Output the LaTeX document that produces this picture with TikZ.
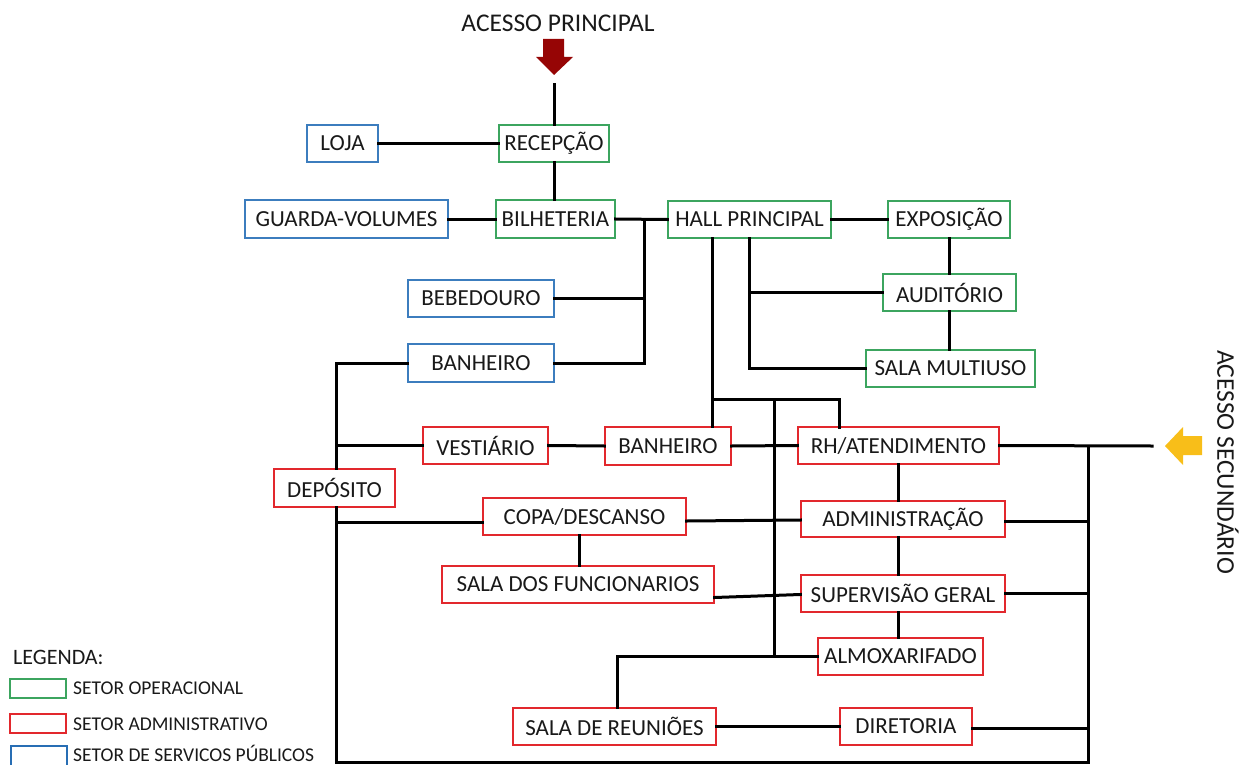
\documentclass[tikz,border=0pt]{standalone}
\usepackage{fontspec}
\setmainfont{Carlito}
\definecolor{opgreen}{RGB}{60,165,95}
\definecolor{admred}{RGB}{226,40,45}
\definecolor{pubblue}{RGB}{60,125,190}
\definecolor{legblue}{RGB}{40,110,180}
\definecolor{accred}{RGB}{150,5,5}
\definecolor{accyel}{RGB}{248,190,25}
\definecolor{txt}{RGB}{25,25,25}
\begin{document}
\begin{tikzpicture}[x=1pt,y=-1pt,
  room/.style={draw, line width=1.2pt, inner sep=0pt, fill=white, text=txt,
     font=\fontsize{23}{25}\selectfont},
  opbox/.style={room, draw=opgreen},
  admbox/.style={room, draw=admred},
  pubbox/.style={room, draw=pubblue},
  link/.style={line width=3pt, black, line cap=rect},
  lbl/.style={text=txt, inner sep=0pt}]
\useasboundingbox (0,0) rectangle (1244,765);

\coordinate (topin) at (554,85);
\coordinate (j1) at (644,219);
\coordinate (h2) at (712,238);
\coordinate (bar) at (712,399);
\coordinate (rhn) at (839,427);
\coordinate (v) at (774,399);
\coordinate (acc) at (1152,446);
\coordinate (rt) at (1088,446);
\coordinate (br) at (1088,762);
\coordinate (bl) at (336,762);
\coordinate (lt) at (336,363);

% nodes
\node[opbox, minimum width=110pt, minimum height=37pt] (recep) at (554,143.5) {RECEPÇÃO};
\node[pubbox, minimum width=71pt, minimum height=37pt] (loja) at (342.5,143.5) {LOJA};
\node[pubbox, minimum width=203pt, minimum height=38pt] (guarda) at (346.5,219) {GUARDA-VOLUMES};
\node[opbox, minimum width=119pt, minimum height=38pt] (bilh) at (555.5,219) {BILHETERIA};
\node[opbox, minimum width=163pt, minimum height=37pt] (hall) at (749.5,219.5) {HALL PRINCIPAL};
\node[opbox, minimum width=122pt, minimum height=37pt] (expo) at (949,219.5) {EXPOSIÇÃO};
\node[opbox, minimum width=133pt, minimum height=37pt] (audit) at (949.5,292.5) {AUDITÓRIO};
\node[opbox, minimum width=169pt, minimum height=37pt] (multi) at (950.5,368.5) {SALA MULTIUSO};
\node[admbox, minimum width=201pt, minimum height=37pt] (rh) at (898.5,445.5) {RH/ATENDIMENTO};
\node[admbox, minimum width=126pt, minimum height=38pt] (banr) at (668,446) {BANHEIRO};
\node[pubbox, minimum width=146pt, minimum height=37pt] (bebe) at (481,298.5) {BEBEDOURO};
\node[pubbox, minimum width=146pt, minimum height=38pt] (banb) at (481,363) {BANHEIRO};
\node[admbox, minimum width=125pt, minimum height=37pt] (vest) at (485.5,445.5) {VESTIÁRIO};
\node[admbox, minimum width=121pt, minimum height=38pt] (depo) at (334.5,488) {DEPÓSITO};
\node[admbox, minimum width=203pt, minimum height=37pt] (copa) at (584.5,516.5) {COPA/DESCANSO};
\node[admbox, minimum width=204pt, minimum height=36pt] (adm) at (903,519) {ADMINISTRAÇÃO};
\node[admbox, minimum width=272pt, minimum height=37pt] (salaf) at (578,584.5) {SALA DOS FUNCIONARIOS};
\node[admbox, minimum width=204pt, minimum height=37pt] (sup) at (903,593.5) {SUPERVISÃO GERAL};
\node[admbox, minimum width=165pt, minimum height=37pt] (almox) at (900.5,656.5) {ALMOXARIFADO};
\node[admbox, minimum width=203pt, minimum height=37pt] (reun) at (614.5,726.5) {SALA DE REUNIÕES};
\node[admbox, minimum width=132pt, minimum height=37pt] (dir) at (906,726.5) {DIRETORIA};

% links
\draw[link] (topin) -- (recep.north);
\draw[link] (loja.east) -- (recep.west);
\draw[link] (recep.south) -- (recep.south |- bilh.north);
\draw[link] (guarda.east) -- (bilh.west);
\draw[link] (bilh.east) -- (hall.west);
\draw[link] (j1) |- (banb.east);
\draw[link] (bebe.east) -- (bebe.east -| j1);
\draw[link] (hall.east) -- (expo.west);
\draw[link] (expo.south) -- (expo.south |- audit.north);
\draw[link] (audit.south) -- (audit.south |- multi.north);
\draw[link] (hall.south) |- (multi.west);
\draw[link] (hall.south |- audit.west) -- (audit.west);
\draw[link] (h2) -- (h2 |- banr.north);
\draw[link] (bar) -| (rhn);
\draw[link] (v) -- (v |- almox.west);
\draw[link] (vest.east) -- (banr.west);
\draw[link] (banr.east) -- (rh.west);
\draw[link] (rh.east) -- (acc);
\draw[link] (rt) -- (br) -- (bl);
\draw[link] ([yshift=-2pt]adm.east) -- ([yshift=-2pt]adm.east -| rt);
\draw[link] (sup.east) -- (sup.east -| rt);
\draw[link] ([yshift=-2pt]dir.east) -- ([yshift=-2pt]dir.east -| rt);
\draw[link] (rh.south) -- (rh.south |- adm.north);
\draw[link] (adm.south -| rh.south) -- (sup.north -| rh.south);
\draw[link] (sup.south -| rh.south) -- (almox.north -| rh.south);
\draw[link] ([yshift=-4.5pt]copa.east) -- ([yshift=-1pt]adm.west);
\draw[link] ([yshift=-13pt]salaf.east) -- ([yshift=-1pt]sup.west);
\draw[link] ([xshift=-5pt]copa.south) -- ([xshift=-5pt]copa.south |- salaf.north);
\draw[link] (almox.west) -| ([xshift=3pt]reun.north);
\draw[link] (reun.east) -- (dir.west);
\draw[link] (banb.west) -| (lt |- depo.north);
\draw[link] (vest.west) -- (vest.west -| lt);
\draw[link] (lt |- depo.south) -- (bl);
\draw[link] ([yshift=-6pt]copa.west) -- ([yshift=-6pt]copa.west -| lt);

% access arrows
\fill[accred] (543,39) -- (564,39) -- (564,57) -- (573,57) -- (554,75) -- (536,57) -- (543,57) -- cycle;
\fill[accyel] (1165,446) -- (1183,427) -- (1183,436) -- (1202,436) -- (1202,455) -- (1183,455) -- (1183,465) -- cycle;
\node[lbl, font=\fontsize{25.5}{27}\selectfont] (accp) at (558,23) {ACESSO PRINCIPAL};
\node[lbl, font=\fontsize{25.5}{27}\selectfont, rotate=-90] (accs) at (1228,462) {ACESSO SECUNDÁRIO};

% legend
\node[lbl, anchor=west, font=\fontsize{22}{24}\selectfont] (leg) at (13,657) {LEGENDA:};
\draw[opgreen, line width=2.6pt] (10,679) rectangle (66,698);
\draw[admred, line width=2.6pt] (10,714) rectangle (66,733);
\draw[legblue, line width=2.6pt] (11,746) rectangle (67,770);
\node[lbl, anchor=west, font=\fontsize{19.5}{21}\selectfont] (l1) at (73,688) {SETOR OPERACIONAL};
\node[lbl, anchor=west, font=\fontsize{19.5}{21}\selectfont] (l2) at (73,724) {SETOR ADMINISTRATIVO};
\node[lbl, anchor=west, font=\fontsize{19.5}{21}\selectfont] (l3) at (73,753) {SETOR DE SERVICOS PÚBLICOS};
\end{tikzpicture}
\end{document}
